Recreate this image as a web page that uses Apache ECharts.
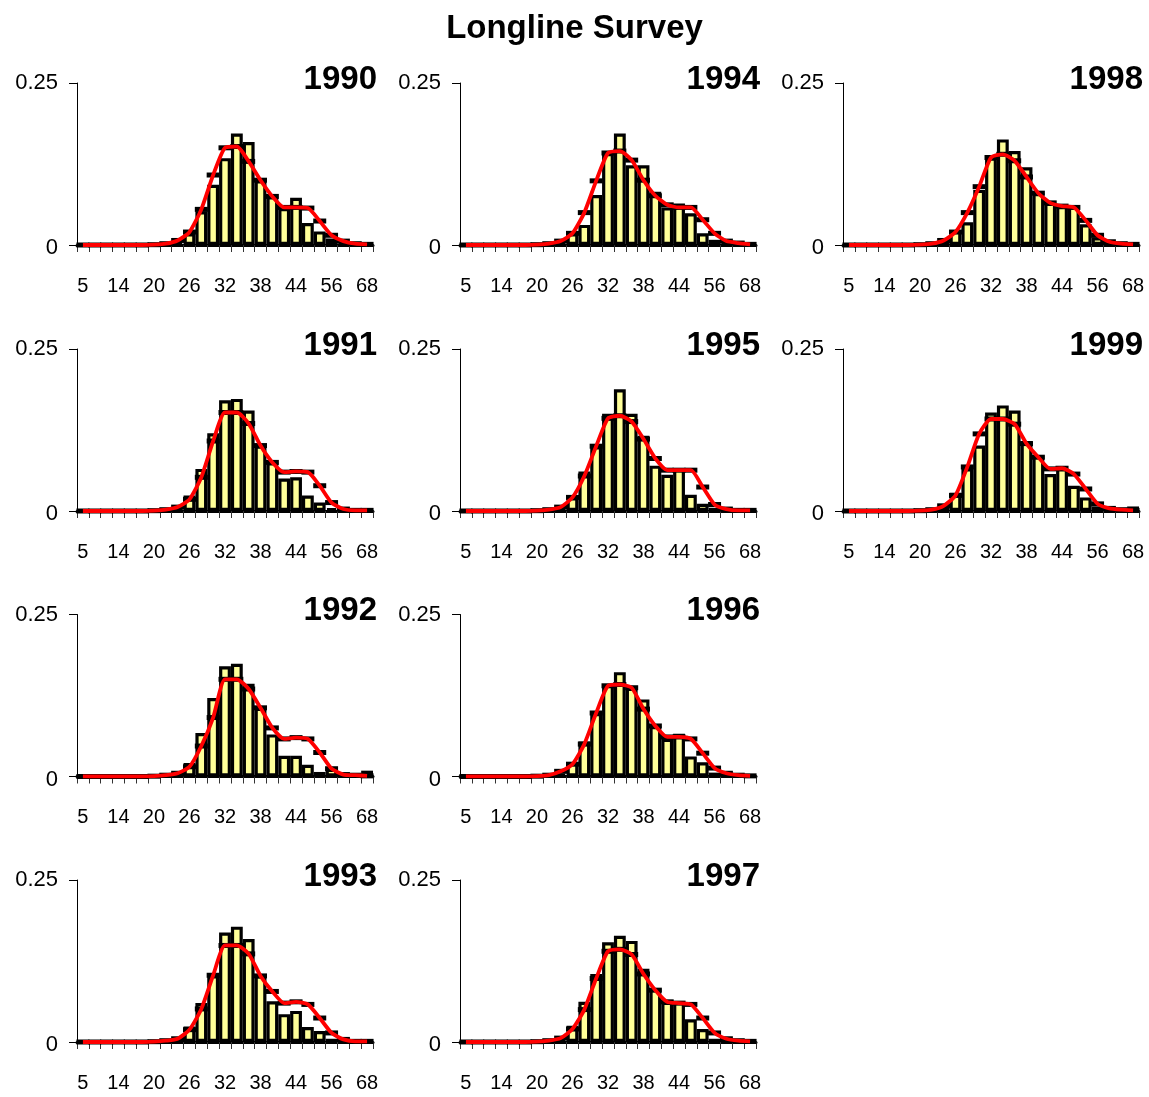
<!DOCTYPE html>
<html>
<head>
<meta charset="utf-8">
<script src="https://cdn.jsdelivr.net/npm/echarts@6/dist/echarts.min.js"></script>
<style>html,body{margin:0;padding:0;background:#fff;}#c{width:1149px;height:1097px;}</style>
</head>
<body>
<div id="c"></div>
<script>
const chartTitle = 'Longline Survey';
const categories = ['5','8','11','14','16','18','20','22','24','26','28','30','32','34','36','38','40','42','44','48','52','56','60','64','68'];
const years = [1990,1991,1992,1993,1994,1995,1996,1997,1998,1999];
const yTicks = [0, 0.25];

const obs1990 = [0,0,0,0,0,0,0,0.001,0.004,0.018,0.052,0.093,0.134,0.172,0.159,0.100,0.075,0.057,0.073,0.034,0.021,0.010,0.003,0.001,0.001];
const fit1990 = [0,0,0,0,0,0,0.0005,0.002,0.007,0.020,0.055,0.108,0.150,0.152,0.129,0.100,0.075,0.058,0.058,0.057,0.037,0.015,0.006,0.002,0.001];
const obs1991 = [0,0,0,0,0,0,0,0.001,0.003,0.024,0.065,0.120,0.171,0.173,0.155,0.101,0.075,0.050,0.052,0.024,0.013,0.004,0.002,0.001,0.001];
const fit1991 = [0,0,0,0,0,0,0.0005,0.002,0.006,0.018,0.052,0.108,0.152,0.152,0.135,0.101,0.075,0.060,0.061,0.060,0.039,0.013,0.003,0.001,0.001];
const obs1992 = [0,0,0,0,0,0,0,0.001,0.003,0.021,0.067,0.121,0.170,0.174,0.143,0.106,0.065,0.032,0.032,0.018,0.007,0.012,0.003,0.002,0.009];
const fit1992 = [0,0,0,0,0,0,0.0005,0.002,0.005,0.015,0.047,0.091,0.150,0.150,0.135,0.106,0.075,0.058,0.060,0.058,0.037,0.012,0.003,0.002,0.001];
const obs1993 = [0,0,0,0,0,0,0,0.001,0.004,0.024,0.060,0.103,0.169,0.178,0.159,0.103,0.063,0.043,0.048,0.023,0.017,0.005,0.002,0.001,0.001];
const fit1993 = [0,0,0,0,0,0,0.0005,0.002,0.005,0.019,0.051,0.103,0.149,0.149,0.136,0.102,0.078,0.060,0.062,0.058,0.037,0.014,0.004,0.001,0.001];
const obs1994 = [0,0,0,0,0,0,0,0.001,0.004,0.018,0.031,0.077,0.142,0.172,0.123,0.123,0.082,0.058,0.064,0.049,0.018,0.008,0.003,0.002,0.002];
const fit1994 = [0,0,0,0,0,0,0.0005,0.002,0.006,0.018,0.050,0.099,0.142,0.145,0.131,0.100,0.076,0.062,0.058,0.058,0.039,0.018,0.006,0.003,0.001];
const obs1995 = [0,0,0,0,0,0,0,0.001,0.004,0.021,0.061,0.100,0.150,0.188,0.150,0.116,0.070,0.056,0.065,0.025,0.011,0.005,0.002,0.001,0.001];
const fit1995 = [0,0,0,0,0,0,0.0005,0.002,0.006,0.021,0.054,0.100,0.143,0.147,0.138,0.111,0.081,0.063,0.063,0.063,0.037,0.010,0.003,0.001,0.001];
const obs1996 = [0,0,0,0,0,0,0,0.001,0.004,0.021,0.054,0.098,0.142,0.161,0.137,0.119,0.078,0.058,0.066,0.031,0.022,0.006,0.005,0.003,0.002];
const fit1996 = [0,0,0,0,0,0,0.0005,0.002,0.008,0.019,0.050,0.098,0.140,0.142,0.137,0.104,0.078,0.061,0.061,0.058,0.036,0.013,0.005,0.002,0.001];
const obs1997 = [0,0,0,0,0,0,0,0.001,0.004,0.025,0.062,0.105,0.154,0.164,0.156,0.113,0.082,0.062,0.063,0.035,0.020,0.005,0.003,0.002,0.001];
const fit1997 = [0,0,0,0,0,0,0.0005,0.002,0.006,0.020,0.050,0.098,0.140,0.143,0.135,0.105,0.080,0.062,0.060,0.058,0.037,0.014,0.005,0.002,0.001];
const obs1998 = [0,0,0,0,0,0,0,0.001,0.005,0.023,0.035,0.085,0.135,0.163,0.145,0.120,0.080,0.065,0.060,0.060,0.032,0.012,0.003,0.002,0.001];
const fit1998 = [0,0,0,0,0,0,0.0005,0.002,0.007,0.020,0.050,0.090,0.135,0.140,0.130,0.105,0.080,0.065,0.060,0.058,0.038,0.015,0.005,0.002,0.001];
const obs1999 = [0,0,0,0,0,0,0,0.001,0.005,0.028,0.066,0.101,0.152,0.163,0.155,0.108,0.085,0.057,0.066,0.039,0.021,0.007,0.002,0.001,0.007];
const fit1999 = [0,0,0,0,0,0,0.0005,0.002,0.008,0.024,0.068,0.119,0.142,0.142,0.134,0.104,0.083,0.065,0.066,0.057,0.034,0.011,0.004,0.002,0.001];

const obsByYear = {1990:obs1990,1991:obs1991,1992:obs1992,1993:obs1993,1994:obs1994,1995:obs1995,1996:obs1996,1997:obs1997,1998:obs1998,1999:obs1999};
const fitByYear = {1990:fit1990,1991:fit1991,1992:fit1992,1993:fit1993,1994:fit1994,1995:fit1995,1996:fit1996,1997:fit1997,1998:fit1998,1999:fit1999};

const FONT = '"Liberation Sans", Arial, sans-serif';
const colLeft = [77, 460, 843];
const rowTop = [83, 349, 614.5, 880];
const plotW = 296, plotH = 162;

const grid = [], xAxis = [], yAxis = [], series = [], graphic = [];
graphic.push({type:'text', left:'center', top:12, style:{text:chartTitle, font:'bold 33px ' + FONT, fill:'#000'}});

years.forEach((yr, k) => {
  const col = Math.floor(k / 4), row = k % 4;
  const L = colLeft[col], T = rowTop[row];
  grid.push({left:L, top:T, width:plotW, height:plotH, containLabel:false});
  xAxis.push({
    type:'category', gridIndex:k, data:categories, boundaryGap:true,
    axisLine:{show:true, lineStyle:{color:'#000', width:3}},
    axisTick:{show:true, interval:0, length:7, lineStyle:{color:'#333', width:1}},
    axisLabel:{interval:2, margin:31, fontSize:20, fontFamily:FONT, color:'#000'},
    splitLine:{show:false}
  });
  yAxis.push({
    type:'value', gridIndex:k, min:yTicks[0], max:yTicks[1], interval:0.25,
    axisLine:{show:true, lineStyle:{color:'#000', width:1}},
    axisTick:{show:true, length:8, lineStyle:{color:'#000', width:1}},
    axisLabel:{margin:19, fontSize:22, fontFamily:FONT, color:'#000',
      formatter:v => v === 0 ? '{z|0}' : String(v),
      rich:{z:{fontSize:22, fontFamily:FONT, color:'#000', padding:[6,0,0,0]}}},
    splitLine:{show:false}
  });
  series.push({
    type:'bar', xAxisIndex:k, yAxisIndex:k, data:obsByYear[yr], barCategoryGap:'0%', barGap:'0%',
    itemStyle:{color:'#FFFF99', borderColor:'#000', borderWidth:3.2}, silent:true, z:2
  });
  series.push({
    type:'scatter', xAxisIndex:k, yAxisIndex:k, data:fitByYear[yr], symbol:'rect', symbolSize:[13,5],
    itemStyle:{color:'#000', opacity:1}, silent:true, z:3
  });
  series.push({
    type:'line', xAxisIndex:k, yAxisIndex:k, data:fitByYear[yr], smooth:0.2, showSymbol:false, symbol:'none',
    lineStyle:{color:'#FF0000', width:3.8}, silent:true, z:4
  });
  graphic.push({type:'text', right:1149 - (L + plotW + 4), top:T - 20, style:{text:String(yr), font:'bold 33px ' + FONT, fill:'#000', textAlign:'right'}});
});

const chart = echarts.init(document.getElementById('c'), null, {renderer:'canvas'});
chart.setOption({backgroundColor:'#fff', animation:false, grid, xAxis, yAxis, series, graphic});
</script>
</body>
</html>
